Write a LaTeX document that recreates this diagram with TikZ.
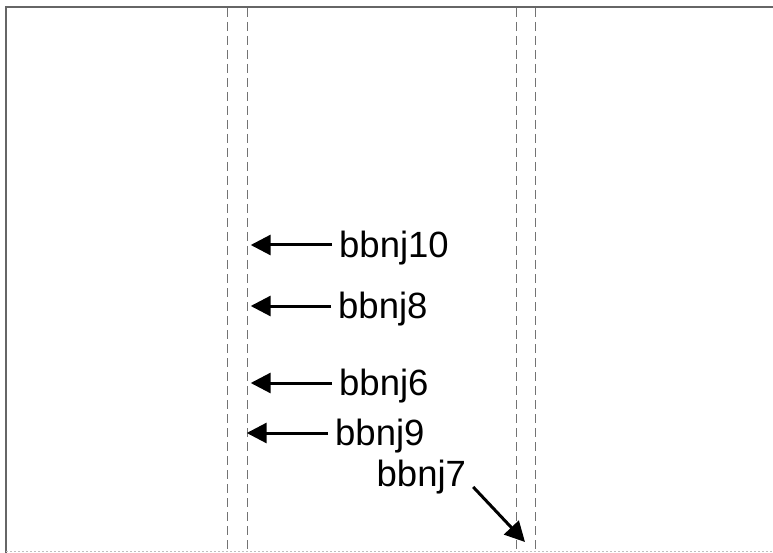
\documentclass[tikz,border=0pt]{standalone}
\usepackage{fontspec}
\setmainfont{Liberation Sans}
\usetikzlibrary{arrows.meta}
\begin{document}
\begin{tikzpicture}[x=1pt,y=-1pt,
  frame/.style={draw=black!60,line width=1.3pt},
  guide/.style={draw=black!55,line width=0.8pt,dash pattern=on 9pt off 5pt},
  lbl/.style={inner xsep=7pt,inner ysep=0pt,text height=25pt,text depth=0pt,
    font=\fontsize{36.5}{40}\selectfont},
  pointer/.style={line width=3pt,-{Triangle[length=20pt,width=20pt]}}]
\useasboundingbox (0,0) rectangle (773,553);
\fill[white] (0,0) rectangle (773,553);
% frame
\coordinate (tl) at (6,7);
\coordinate (tr) at (773,7);
\coordinate (bl) at (6,553);
\coordinate (bbl) at (6,551);
\coordinate (bbr) at (773,551);
\draw[frame] (tr) -- (tl) -- (bl);
\draw[draw=black!25,line width=1pt,dash pattern=on 2pt off 2pt] (bbl) -- (bbr);
% dashed guides
\foreach \x in {227.5,247,516,535}{
  \draw[guide] (\x,8) -- (\x,553);
}
% labels
\node[lbl,anchor=west] (t10) at (332,245) {bbnj10};
\node[lbl,anchor=west] (t8) at (331,306) {bbnj8};
\node[lbl,anchor=west] (t6) at (332,383) {bbnj6};
\node[lbl,anchor=west] (t9) at (328,433) {bbnj9};
\node[lbl,anchor=south west] (t7) at (369.5,487) {bbnj7};
% targets
\coordinate (p10) at (250.7,245);
\coordinate (p8) at (250.7,306);
\coordinate (p6) at (250.7,383);
\coordinate (p9) at (246.7,433);
\coordinate (p7) at (525,542);
\draw[pointer] (t10.west) -- (p10);
\draw[pointer] (t8.west) -- (p8);
\draw[pointer] (t6.west) -- (p6);
\draw[pointer] (t9.west) -- (p9);
\draw[pointer] (t7.south east) -- (p7);
\end{tikzpicture}
\end{document}
